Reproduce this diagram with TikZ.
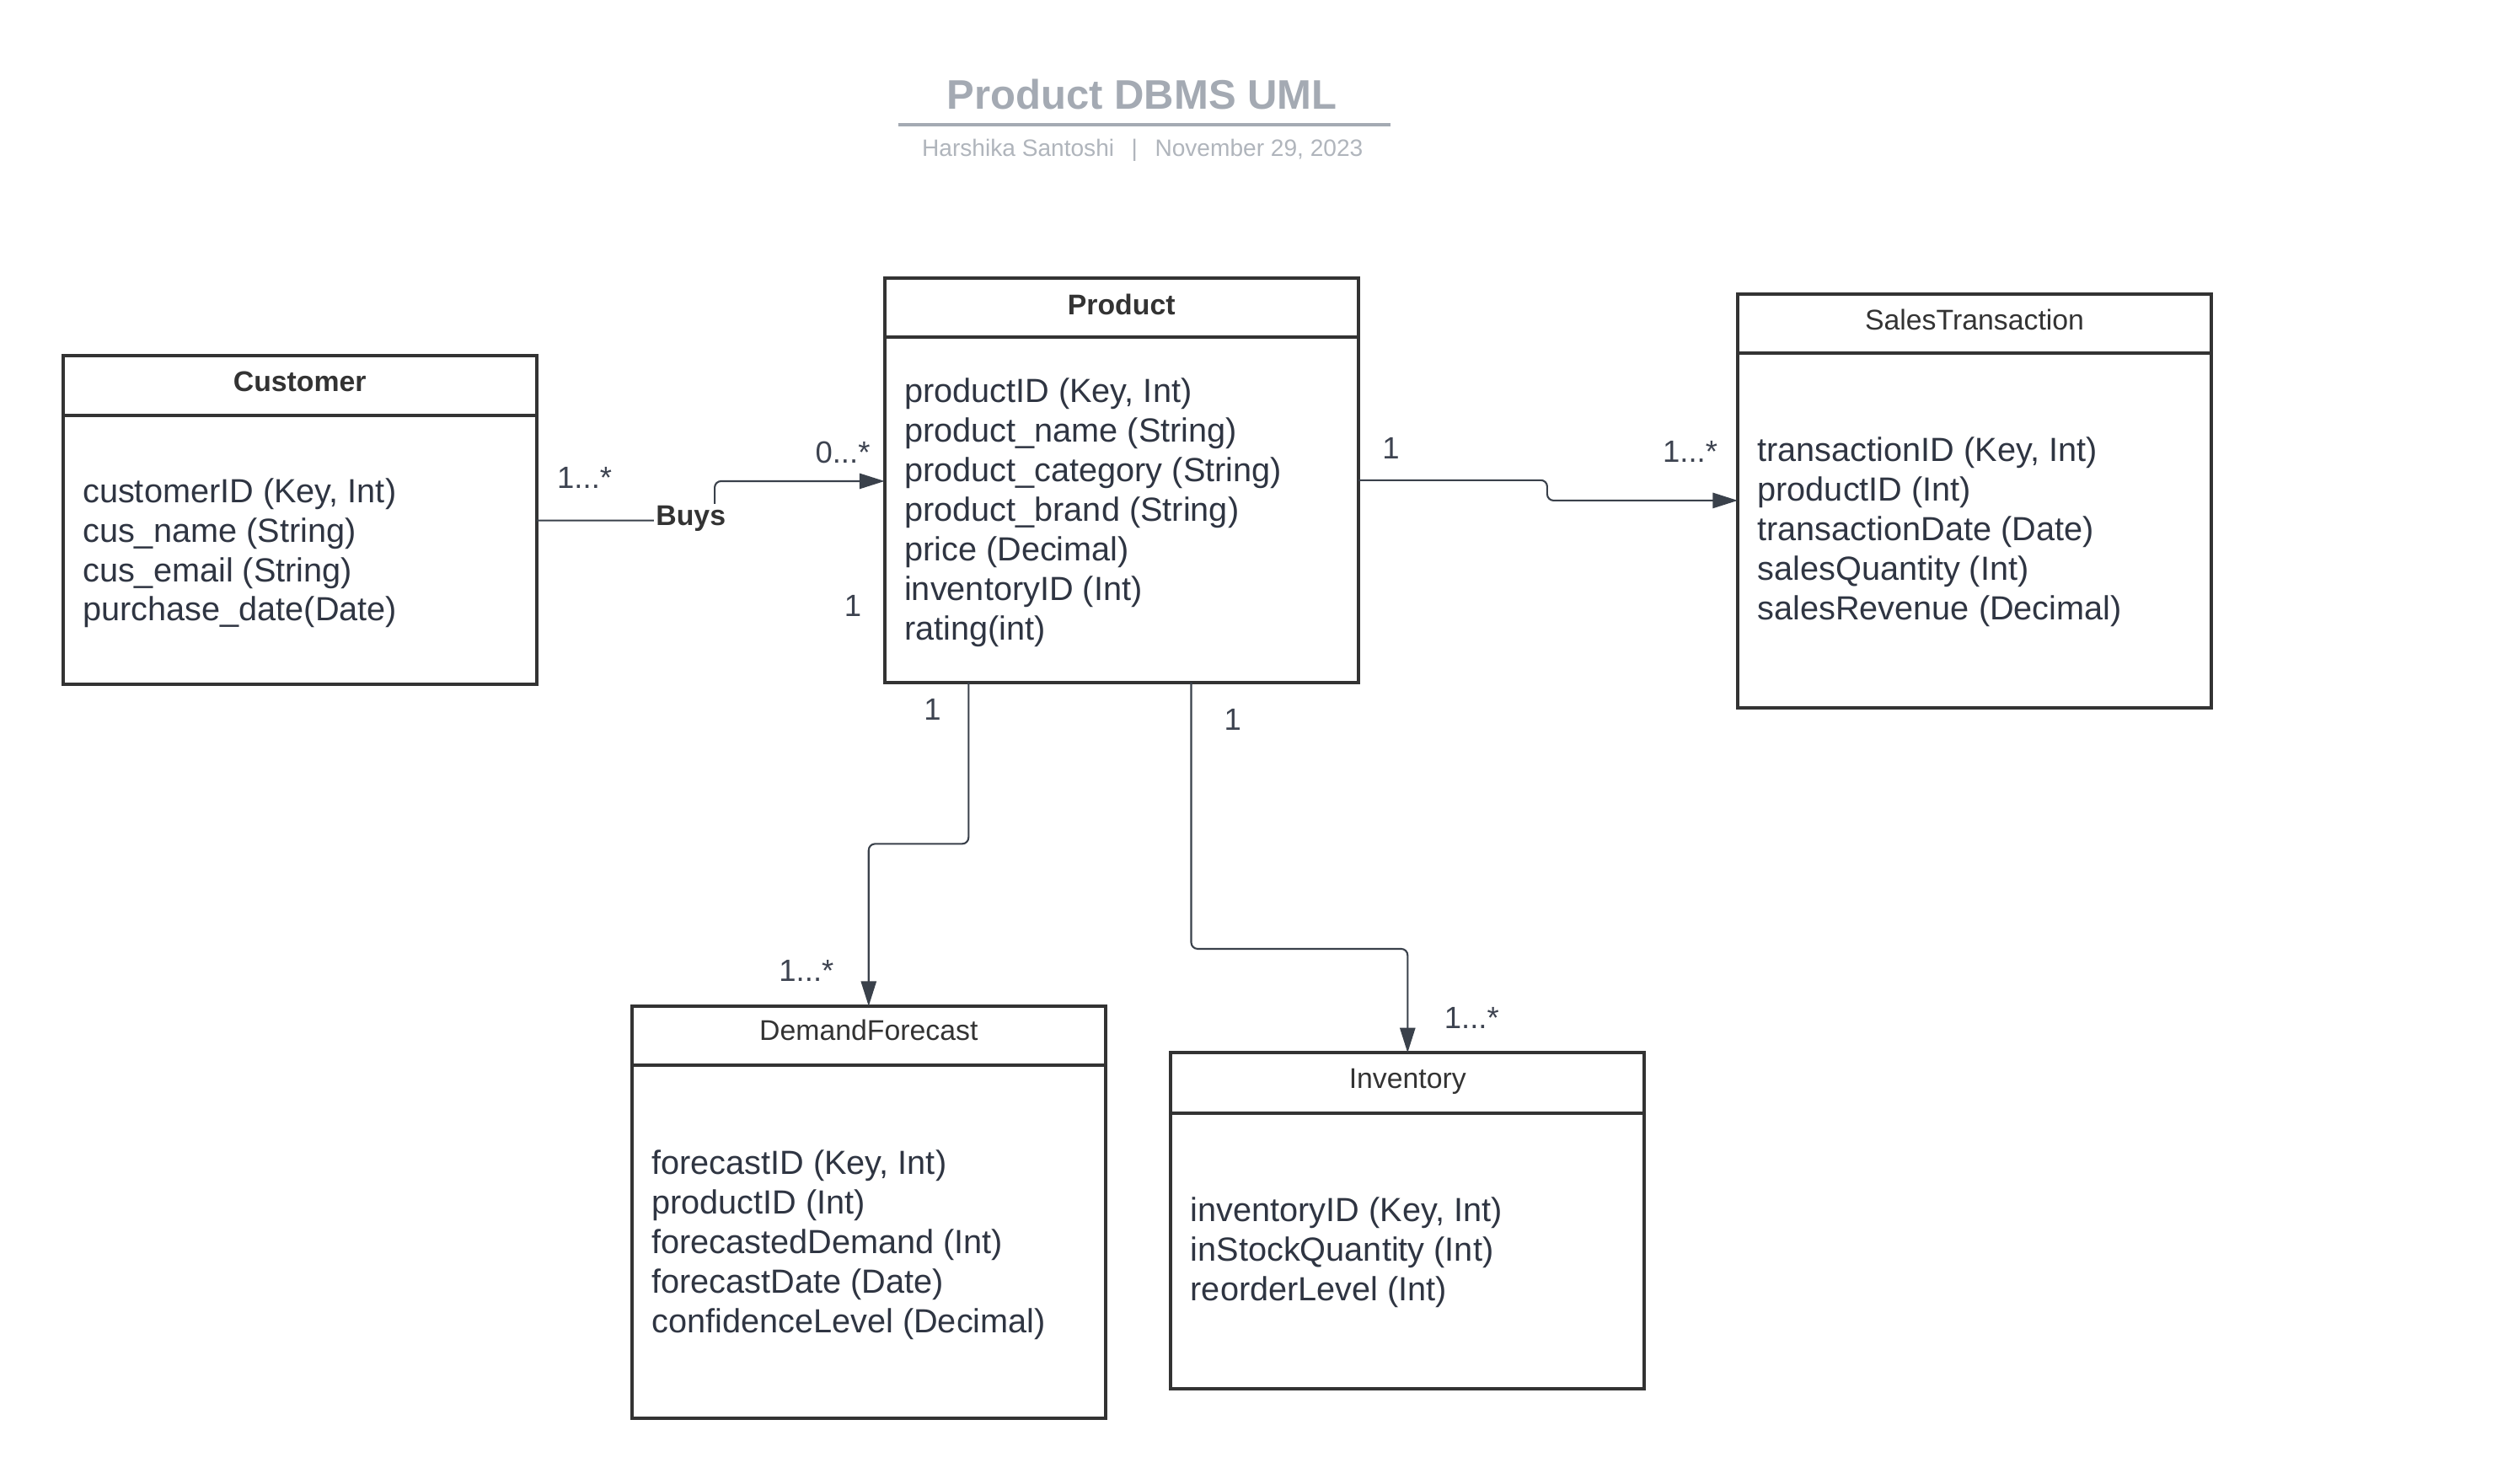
\documentclass[tikz,border=0pt]{standalone}
\usepackage{fontspec}
\setmainfont{Liberation Sans}
\usetikzlibrary{arrows.meta}
\definecolor{boxc}{HTML}{333333}
\definecolor{attrc}{HTML}{2F3542}
\definecolor{labc}{HTML}{3D4350}
\definecolor{linec}{HTML}{3A414B}
\definecolor{titlec}{HTML}{A4AAB3}
\definecolor{subc}{HTML}{B0B5BC}
\tikzset{
  classbox/.style={draw=boxc, line width=1.05pt, rectangle, anchor=north west, inner sep=0pt, outer sep=0pt, minimum width=148pt},
  divider/.style={draw=boxc, line width=1.05pt},
  hdr/.style={anchor=base, inner sep=0pt, text=boxc, font=\fontsize{8.9}{10.7}\selectfont},
  hdrb/.style={anchor=base, inner sep=0pt, text=boxc, font=\fontsize{8.9}{10.7}\selectfont\bfseries},
  attrs/.style={anchor=base west, inner sep=0pt, text=attrc, font=\fontsize{10.45}{12.37}\selectfont},
  mult/.style={anchor=base, inner sep=0pt, text=labc, font=\fontsize{9.6}{11}\selectfont},
  conn/.style={draw=linec, line width=0.55pt, rounded corners=2pt, -{Triangle[length=7.8pt,width=4.8pt]}},
}
\newcommand{\attrlist}[1]{\begin{tabular}[t]{@{}l@{}}#1\end{tabular}}
\begin{document}
\begin{tikzpicture}[x=0.5pt,y=-0.5pt]
\useasboundingbox (0,0) rectangle (1560,927);
\fill[white] (0,0) rectangle (1560,927);

% title
\node[anchor=base, inner sep=0pt, text=titlec, font=\fontsize{12.9}{15}\selectfont\bfseries] (title) at (713.5,68.2) {Product DBMS UML};
\draw[titlec, line width=0.9pt] (561,78) -- (868.5,78);
\node[anchor=base, inner sep=0pt, text=subc, font=\fontsize{7.4}{9}\selectfont] (sub) at (713.8,97.5) {Harshika Santoshi\hspace{5.4pt}|\hspace{5.4pt}November 29, 2023};

% Customer
\node[classbox, minimum height=102.5pt] (cust) at (39.3,222.3) {};
\draw[divider] ([yshift=-18.6pt]cust.north west) -- ([yshift=-18.6pt]cust.north east);
\node[hdrb] (custh) at ([yshift=-11pt]cust.north) {Customer};
\node[attrs] (custa) at ([xshift=6pt,yshift=-45.75pt]cust.north west) {\attrlist{customerID (Key, Int)\\ cus\_name (String)\\ cus\_email (String)\\ purchase\_date(Date)}};

% Product
\node[classbox, minimum height=126.25pt] (prod) at (552.6,173.8) {};
\draw[divider] ([yshift=-18.5pt]prod.north west) -- ([yshift=-18.5pt]prod.north east);
\node[hdrb] (prodh) at ([yshift=-11.3pt]prod.north) {Product};
\node[attrs] (proda) at ([xshift=6pt,yshift=-38.85pt]prod.north west) {\attrlist{productID (Key, Int)\\ product\_name (String)\\ product\_category (String)\\ product\_brand (String)\\ price (Decimal)\\ inventoryID (Int)\\ rating(int)}};

% SalesTransaction
\node[classbox, minimum height=129.3pt] (sales) at (1085.6,183.6) {};
\draw[divider] ([yshift=-18.5pt]sales.north west) -- ([yshift=-18.5pt]sales.north east);
\node[hdr] (salesh) at ([yshift=-11.2pt]sales.north) {SalesTransaction};
\node[attrs] (salesa) at ([xshift=6pt,yshift=-52.4pt]sales.north west) {\attrlist{transactionID (Key, Int)\\ productID (Int)\\ transactionDate (Date)\\ salesQuantity (Int)\\ salesRevenue (Decimal)}};

% DemandForecast
\node[classbox, minimum height=128.8pt] (demand) at (394.7,628.6) {};
\draw[divider] ([yshift=-18.5pt]demand.north west) -- ([yshift=-18.5pt]demand.north east);
\node[hdr] (demandh) at ([yshift=-10.8pt]demand.north) {DemandForecast};
\node[attrs] (demanda) at ([xshift=6pt,yshift=-52.5pt]demand.north west) {\attrlist{forecastID (Key, Int)\\ productID (Int)\\ forecastedDemand (Int)\\ forecastDate (Date)\\ confidenceLevel (Decimal)}};

% Inventory
\node[classbox, minimum height=104.95pt] (inv) at (731.4,657.7) {};
\draw[divider] ([yshift=-18.8pt]inv.north west) -- ([yshift=-18.8pt]inv.north east);
\node[hdr] (invh) at ([yshift=-11pt]inv.north) {Inventory};
\node[attrs] (inva) at ([xshift=6pt,yshift=-52.6pt]inv.north west) {\attrlist{inventoryID (Key, Int)\\ inStockQuantity (Int)\\ reorderLevel (Int)}};

% connectors
\draw[conn] (cust.east |- 0,325.2) -- (446.5,325.2) -- (446.5,300.6) -- (prod.west |- 0,300.6);
\node[anchor=base, inner sep=0.6pt, fill=white, text=boxc, font=\fontsize{8.9}{10.7}\selectfont\bfseries] (buys) at (431.6,328.5) {Buys};
\draw[conn] (prod.east |- 0,300) -- (966.6,300) -- (966.6,312.7) -- (sales.west |- 0,312.7);
\draw[conn] (prod.south -| 605.1,0) -- (605.1,527.2) -- (demand.north |- 0,527.2) -- (demand.north);
\draw[conn] (prod.south -| 744.2,0) -- (744.2,592.8) -- (inv.north |- 0,592.8) -- (inv.north);

% multiplicities
\node[mult] (m1) at (365.2,305) {1...*};
\node[mult] (m2) at (526.5,289.5) {0...*};
\node[mult] (m3) at (532.8,385) {1};
\node[mult] (m4) at (869,286.5) {1};
\node[mult] (m5) at (1055.9,288.8) {1...*};
\node[mult] (m6) at (582.6,450.1) {1};
\node[mult] (m7) at (770.1,456.3) {1};
\node[mult] (m8) at (503.8,613) {1...*};
\node[mult] (m9) at (919.4,642.7) {1...*};
\end{tikzpicture}
\end{document}
